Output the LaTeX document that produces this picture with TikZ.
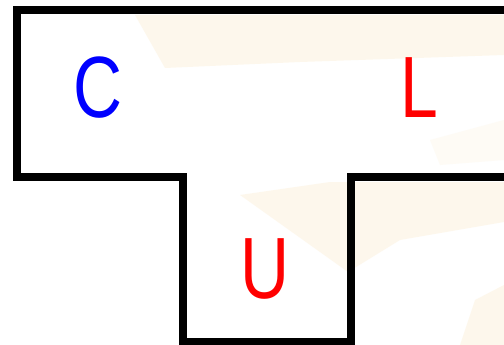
\documentclass[tikz,border=0pt]{standalone}
\usepackage{fontspec}
\setmainfont{Liberation Sans}
\begin{document}
\begin{tikzpicture}[x=1pt,y=-1pt,
  outline/.style={line width=8pt,line join=miter,draw=black},
  letter/.style={font=\fontsize{87}{87}\selectfont,xscale=0.78,inner sep=0pt,anchor=center},
  wm/.style={fill={rgb,255:red,252;green,236;blue,208},draw=none,opacity=0.4}]
\useasboundingbox (0,0) rectangle (504,345);
\fill[white] (0,0) rectangle (504,345);
% faint watermark
\fill[wm] (135,15) -- (504,15) -- (504,55) -- (300,62) -- (165,68) -- cycle;
\fill[wm] (240,195) -- (330,182) -- (504,182) -- (504,222) -- (400,240) -- (348,272) -- cycle;
\fill[wm] (475,300) -- (504,285) -- (504,345) -- (460,345) -- cycle;
\fill[wm,opacity=0.2] (430,140) -- (504,120) -- (504,160) -- (440,165) -- cycle;
% outline
\coordinate (a) at (520,10.5);
\coordinate (b) at (16.5,10.5);
\coordinate (c) at (16.5,177);
\coordinate (d) at (183,177);
\coordinate (e) at (183,341.5);
\coordinate (f) at (350.5,341.5);
\coordinate (g) at (350.5,177);
\coordinate (h) at (520,177);
\draw[outline] (a) -- (b) -- (c) -- (d) -- (e) -- (f) -- (g) -- (h);
% letters
\node[letter,text={rgb,255:red,0;green,0;blue,255}] (C) at (98,87.5) {C};
\node[letter,text={rgb,255:red,255;green,0;blue,0}] (L) at (419,87.5) {L};
\node[letter,text={rgb,255:red,255;green,0;blue,0}] (U) at (265,269) {U};
\end{tikzpicture}
\end{document}
